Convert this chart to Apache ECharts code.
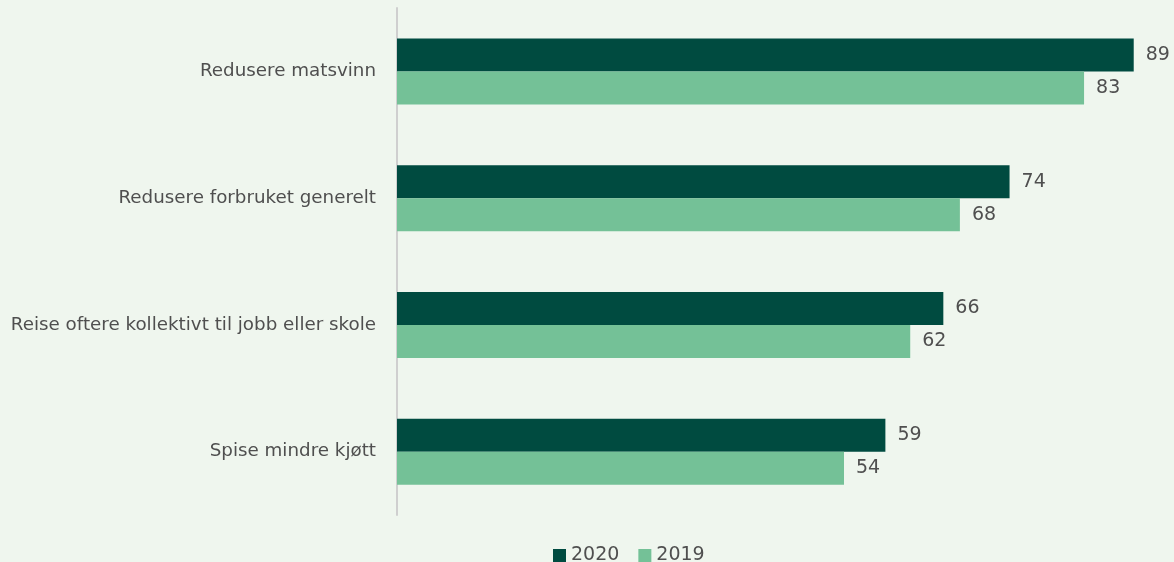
<!DOCTYPE html>
<html><head><meta charset="utf-8">
<script src="https://cdn.jsdelivr.net/npm/echarts@6/dist/echarts.min.js"></script>
<style>html,body{margin:0;padding:0;background:#eff6ee;}#c{width:1174px;height:562px;}</style>
</head><body><div id="c"></div>
<script>
const categories = ['Redusere matsvinn','Redusere forbruket generelt','Reise oftere kollektivt til jobb eller skole','Spise mindre kjøtt'];
const values2020 = [89,74,66,59];
const values2019 = [83,68,62,54];
const seriesNames = ['2020','2019'];

const chart = echarts.init(document.getElementById('c'));
const font = '"DejaVu Sans", sans-serif';
chart.setOption({
  backgroundColor: '#eff6ee',
  animation: false,
  textStyle: {fontFamily: font},
  grid: {left: 397, right: 32, top: 8, bottom: 47},
  legend: {
    top: 541, left: 548, itemWidth: 13, itemHeight: 13, itemGap: 19,
    icon: 'rect',
    textStyle: {fontSize: 19, color: '#4f4f4f', fontFamily: font},
    data: seriesNames
  },
  xAxis: {type: 'value', min: 0, max: 90, show: false},
  yAxis: {
    type: 'category', data: categories, inverse: true,
    axisLine: {show: true, lineStyle: {color: '#cfcfcf', width: 2}},
    axisTick: {show: false},
    axisLabel: {fontSize: 18.3, color: '#4f4f4f', margin: 21, fontFamily: font}
  },
  series: [
    {name: seriesNames[0], type: 'bar', data: values2020, barWidth: 33, barGap: '0%',
     itemStyle: {color: '#004b40'},
     label: {show: true, position: 'right', distance: 12, fontSize: 19, color: '#4f4f4f', fontFamily: font}},
    {name: seriesNames[1], type: 'bar', data: values2019, barWidth: 33, barGap: '0%',
     itemStyle: {color: '#74c197'},
     label: {show: true, position: 'right', distance: 12, fontSize: 19, color: '#4f4f4f', fontFamily: font}}
  ]
});
</script></body></html>
